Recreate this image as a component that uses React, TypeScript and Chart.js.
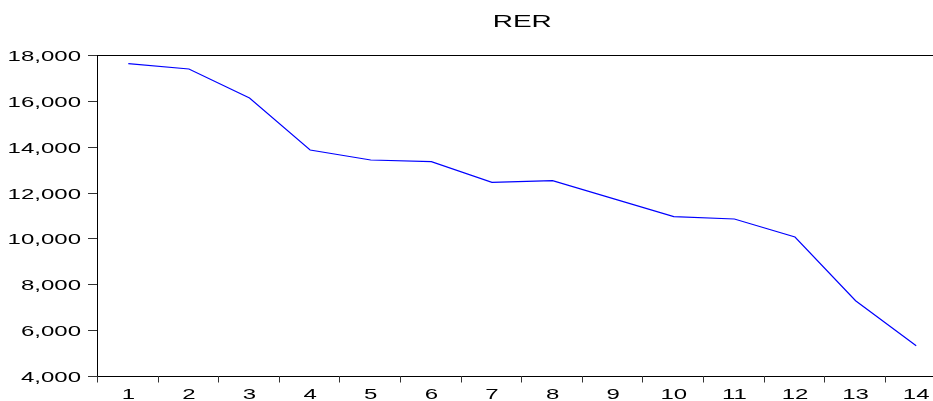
import React, { useEffect, useRef } from "react";
import { Chart, registerables } from "chart.js";

Chart.register(...registerables);

const title = "RER";
const categories = ["1", "2", "3", "4", "5", "6", "7", "8", "9", "10", "11", "12", "13", "14"];
const rerValues = [17620, 17390, 16125, 13857, 13421, 13346, 12448, 12518, 11733, 10948, 10847, 10062, 7284, 5315];
const yTicks = [4000, 6000, 8000, 10000, 12000, 14000, 16000, 18000];
const yMin = 4000;
const yMax = 18000;

const FONT = "'Liberation Sans', Arial, sans-serif";

function stretchedText(
  ctx: CanvasRenderingContext2D,
  text: string,
  x: number,
  y: number,
  align: CanvasTextAlign,
  sx: number,
  font: string
) {
  ctx.save();
  ctx.translate(x, y);
  ctx.scale(sx, 1);
  ctx.font = font;
  ctx.fillStyle = "#000";
  ctx.textAlign = align;
  ctx.textBaseline = "alphabetic";
  ctx.fillText(text, 0, 0);
  ctx.restore();
}

const framePlugin = {
  id: "eviewsFrame",
  afterDatasetsDraw(chart: any) {
    const ctx: CanvasRenderingContext2D = chart.ctx;
    const area = chart.chartArea;
    const xs = chart.scales.x;
    const ys = chart.scales.y;
    ctx.save();
    ctx.lineWidth = 1;
    ctx.strokeStyle = "#000";
    // top border
    ctx.beginPath();
    ctx.moveTo(area.left - 0.5, Math.round(area.top) + 0.5);
    ctx.lineTo(area.right, Math.round(area.top) + 0.5);
    ctx.stroke();
    // left axis
    ctx.beginPath();
    ctx.moveTo(Math.round(area.left) - 0.5, area.top);
    ctx.lineTo(Math.round(area.left) - 0.5, area.bottom + 0.5);
    ctx.stroke();
    // bottom axis
    ctx.beginPath();
    ctx.moveTo(area.left - 1, Math.round(area.bottom) + 0.5);
    ctx.lineTo(area.right, Math.round(area.bottom) + 0.5);
    ctx.stroke();

    // y ticks + labels
    ctx.strokeStyle = "#333";
    for (const v of yTicks) {
      const py = Math.round(ys.getPixelForValue(v)) + 0.5;
      ctx.beginPath();
      ctx.moveTo(area.left - 10, py);
      ctx.lineTo(area.left - 1, py);
      ctx.stroke();
      stretchedText(ctx, v.toLocaleString("en-US"), 81, py + 5.3, "right", 1.6, `15px ${FONT}`);
    }

    // x ticks (category boundaries) + labels
    const n = categories.length;
    for (let i = 0; i <= n; i++) {
      let bx: number;
      if (i < n) {
        const c = xs.getPixelForValue(i);
        const half = (xs.getPixelForValue(1) - xs.getPixelForValue(0)) / 2;
        bx = c - half;
      } else {
        const c = xs.getPixelForValue(n - 1);
        const half = (xs.getPixelForValue(1) - xs.getPixelForValue(0)) / 2;
        bx = c + half;
      }
      const px = Math.round(bx) - 0.5;
      ctx.beginPath();
      ctx.moveTo(px, area.bottom);
      ctx.lineTo(px, area.bottom + 6.5);
      ctx.stroke();
    }
    categories.forEach((c, i) => {
      const cx = xs.getPixelForValue(i);
      stretchedText(ctx, c, cx, 399, "center", 1.6, `15px ${FONT}`);
    });

    // title
    stretchedText(ctx, title, (area.left + area.right) / 2, 27, "center", 1.75, `16px ${FONT}`);
    ctx.restore();
  },
};

export default function App() {
  const canvasRef = useRef<HTMLCanvasElement | null>(null);

  useEffect(() => {
    const canvas = canvasRef.current;
    if (!canvas) return;
    const chart = new Chart(canvas, {
      type: "line",
      data: {
        labels: categories,
        datasets: [
          {
            label: title,
            data: rerValues,
            borderColor: "#0000ff",
            borderWidth: 1.2,
            pointRadius: 0,
            fill: false,
            tension: 0,
          },
        ],
      },
      options: {
        animation: false,
        responsive: false,
        devicePixelRatio: 1,
        layout: { padding: { left: 98, top: 55, right: 13.5, bottom: 25 } },
        plugins: {
          legend: { display: false },
          title: { display: false },
          tooltip: { enabled: false },
        },
        scales: {
          x: { type: "category", offset: true, display: false },
          y: { type: "linear", min: yMin, max: yMax, display: false },
        },
      },
      plugins: [framePlugin],
    });
    return () => chart.destroy();
  }, []);

  return (
    <div
      style={{
        position: "fixed",
        left: 0,
        top: 0,
        width: 933,
        height: 401,
        overflow: "hidden",
        background: "#fff",
      }}
    >
      <canvas ref={canvasRef} width={960} height={401} style={{ width: 960, height: 401, display: "block" }} />
    </div>
  );
}
